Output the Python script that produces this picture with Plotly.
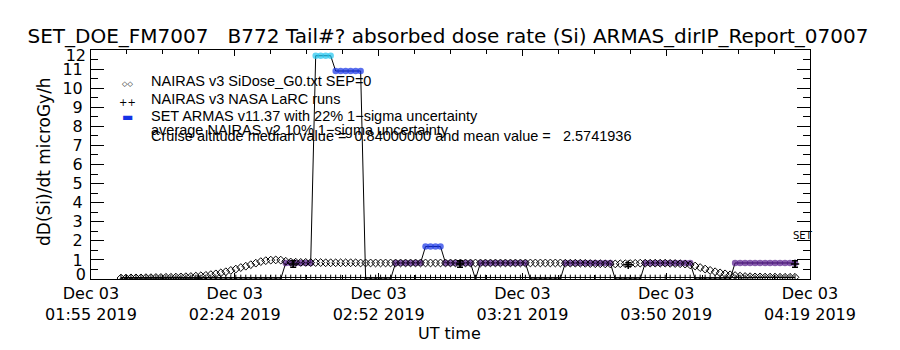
import plotly.graph_objects as go
import pandas as pd

# ---------------- data ----------------
X_START = "2019-12-03 01:55:15"
X_END = "2019-12-03 04:19:15"

# NAIRAS v3 SiDose_G0 (SEP=0), one value per minute starting at 02:01:15
nairas_start = "2019-12-03 02:01:15"
nairas_v3 = [
    0.05, 0.05, 0.06, 0.06, 0.06, 0.07, 0.07, 0.08, 0.08, 0.09,
    0.09, 0.10, 0.11, 0.12, 0.13, 0.15, 0.17, 0.19, 0.23, 0.27,
    0.32, 0.38, 0.45, 0.52, 0.60, 0.67, 0.75, 0.83, 0.91, 0.96,
    0.99, 1.00, 0.99, 0.93, 0.89, 0.88, 0.87, 0.87, 0.86, 0.86,
    0.86, 0.85, 0.85, 0.85, 0.85, 0.85, 0.85, 0.85, 0.84, 0.84,
    0.84, 0.84, 0.84, 0.84, 0.84, 0.84, 0.84, 0.84, 0.84, 0.84,
    0.84, 0.84, 0.84, 0.84, 0.84, 0.84, 0.84, 0.84, 0.84, 0.84,
    0.84, 0.84, 0.84, 0.84, 0.84, 0.84, 0.84, 0.84, 0.84, 0.84,
    0.84, 0.84, 0.84, 0.84, 0.84, 0.84, 0.84, 0.84, 0.84, 0.83,
    0.83, 0.83, 0.83, 0.82, 0.81, 0.80, 0.80, 0.79, 0.79, 0.79,
    0.80, 0.80, 0.81, 0.82, 0.83, 0.83, 0.83, 0.83, 0.83, 0.83,
    0.82, 0.81, 0.80, 0.78, 0.74, 0.68, 0.60, 0.52, 0.45, 0.38,
    0.32, 0.27, 0.22, 0.18, 0.15, 0.13, 0.12, 0.11, 0.11, 0.10,
    0.10, 0.10, 0.09, 0.09, 0.09, 0.09,
]

# SET ARMAS v11.37 dose rate, one value per minute starting at 02:01:15
armas_start = "2019-12-03 02:01:15"
armas_dose = (
    [0.0] * 33
    + [0.84, 0.84, 0.84, 0.84, 0.84, 0.84]
    + [11.7, 11.7, 11.7, 11.7]
    + [10.9, 10.9, 10.9, 10.9, 10.9, 10.9]
    + [0.0] * 6
    + [0.84, 0.84, 0.84, 0.84, 0.84, 0.84]
    + [1.70, 1.70, 1.70, 1.70]
    + [0.84, 0.84, 0.84, 0.84, 0.84, 0.84]
    + [0.0]
    + [0.84] * 10
    + [0.0] * 7
    + [0.84] * 10
    + [0.0] * 6
    + [0.84] * 10
    + [0.0] * 8
    + [0.84] * 13
)

# NAIRAS v3 NASA LaRC runs
larc_times = ["2019-12-03 02:35:45", "2019-12-03 03:09:09",
              "2019-12-03 03:42:51", "2019-12-03 04:16:15"]
larc_dose = [0.79, 0.79, 0.75, 0.79]
larc_err = [0.17, 0.17, 0.10, 0.17]

# low-level trace along the bottom (one value per minute from 02:01:15)
base_start = "2019-12-03 02:01:15"
base_dose = [0.08] * 136

x_tick_times = ["2019-12-03 01:55:15", "2019-12-03 02:24:03", "2019-12-03 02:52:51",
                "2019-12-03 03:21:39", "2019-12-03 03:50:27", "2019-12-03 04:19:15"]
x_tick_text = ["Dec 03<br>01:55 2019", "Dec 03<br>02:24 2019", "Dec 03<br>02:52 2019",
               "Dec 03<br>03:21 2019", "Dec 03<br>03:50 2019", "Dec 03<br>04:19 2019"]
y_tick_vals = list(range(0, 13))
y_tick_text = [str(v) for v in y_tick_vals]

title_text = "SET_DOE_FM7007\u00a0\u00a0\u00a0B772 Tail#? absorbed dose rate (Si) ARMAS_dirIP_Report_07007"
legend_lines = [
    "NAIRAS v3 SiDose_G0.txt SEP=0",
    "NAIRAS v3 NASA LaRC runs",
    "SET ARMAS v11.37 with 22% 1\u2212sigma uncertainty",
    "average NAIRAS v2 10% 1\u2212sigma uncertainty",
    "Cruise altitude median value =\u00a0\u00a00.84000000 and mean value =\u00a0\u00a0\u00a02.5741936",
]

# ---------------- styling helpers ----------------
PURPLE = "#551a8b"
BLUE = "#1432e6"
CYAN = "#1ec4f0"


def armas_color(v):
    if v == 0:
        return "black"
    if v < 1.2:
        return PURPLE
    if v < 11.5:
        return BLUE
    return CYAN


def minute_times(start, n):
    return pd.date_range(start=start, periods=n, freq="60s")


nairas_t = minute_times(nairas_start, len(nairas_v3))
armas_t = minute_times(armas_start, len(armas_dose))
base_t = minute_times(base_start, len(base_dose))

FONT = "DejaVu Sans"
LFONT = "Liberation Sans"

fig = go.Figure()

fig.add_trace(go.Scatter(
    x=base_t, y=base_dose, mode="lines+markers",
    line=dict(color="black", width=1),
    marker=dict(symbol="line-ns", size=4, line=dict(color="black", width=1)),
    showlegend=False, hoverinfo="skip"))

fig.add_trace(go.Scatter(
    x=armas_t, y=armas_dose, mode="lines+markers",
    line=dict(color="black", width=1),
    marker=dict(size=[3 if v == 0 else 6.5 for v in armas_dose],
                color=[armas_color(v) for v in armas_dose], line=dict(width=0)),
    name="SET ARMAS", showlegend=False))

fig.add_trace(go.Scatter(
    x=nairas_t, y=nairas_v3, mode="markers",
    marker=dict(symbol="diamond-open", size=6, color="black", line=dict(width=1)),
    name="NAIRAS v3", showlegend=False))

fig.add_trace(go.Scatter(
    x=larc_times, y=larc_dose, mode="markers",
    marker=dict(symbol="cross-thin", size=6, line=dict(color="black", width=1.5)),
    error_y=dict(type="data", array=larc_err, color="black", thickness=1.5, width=3),
    name="LaRC", showlegend=False))

# empty traces so the extra label axes are drawn
for ya in ("y2", "y3"):
    fig.add_trace(go.Scatter(x=[], y=[], yaxis=ya, showlegend=False, hoverinfo="skip"))

L, R, T, B = 91, 90, 50, 71
PW, PH = 900 - L - R, 350 - T - B


def px_x(x):
    return (x - L) / PW


def px_y(y):
    return (350 - B - y) / PH


annotations = []
# legend symbols
annotations.append(dict(x=px_x(127.5), y=px_y(84), xref="paper", yref="paper",
                        text="\u25c7\u25c7", showarrow=False, xanchor="center", yanchor="middle",
                        font=dict(family=FONT, size=7, color="black")))
annotations.append(dict(x=px_x(127.5), y=px_y(102), xref="paper", yref="paper",
                        text="++", showarrow=False, xanchor="center", yanchor="middle",
                        font=dict(family=FONT, size=10, color="black")))
annotations.append(dict(x=px_x(127.5), y=px_y(117.5), xref="paper", yref="paper",
                        text="\u25ac", showarrow=False, xanchor="center", yanchor="middle",
                        font=dict(family=FONT, size=12, color=BLUE)))
for txt, yc in zip(legend_lines, [81, 99, 116, 130, 136]):
    annotations.append(dict(x=px_x(149), y=px_y(yc), xref="paper", yref="paper",
                            text=txt, showarrow=False, xanchor="left", yanchor="middle",
                            font=dict(family=LFONT, size=14.5, color="black")))
# y axis title
annotations.append(dict(x=px_x(44), y=px_y(162), xref="paper", yref="paper",
                        text="dD(Si)/dt microGy/h", textangle=-90, showarrow=False,
                        xanchor="center", yanchor="middle",
                        font=dict(family=FONT, size=17, color="black")))
# x axis title
annotations.append(dict(x=px_x(449), y=px_y(333), xref="paper", yref="paper",
                        text="UT time", showarrow=False, xanchor="center", yanchor="middle",
                        font=dict(family=FONT, size=16, color="black")))
# SET label
annotations.append(dict(x="2019-12-03 04:15:27", y=2.26, xref="x", yref="y",
                        text="SET", showarrow=False, xanchor="left", yanchor="middle",
                        font=dict(family=FONT, size=10, color="black")))

label_axis = dict(range=[0, 12], overlaying="y", side="left", anchor="x",
                  tickmode="array", ticks="", showline=False, showgrid=False,
                  zeroline=False, ticklabelstandoff=4,
                  tickfont=dict(family=FONT, size=16, color="black"))

fig.update_layout(
    width=900, height=350,
    margin=dict(l=L, r=R, t=T, b=B, pad=0),
    paper_bgcolor="white", plot_bgcolor="white",
    font=dict(family=FONT, size=16, color="black"),
    title=dict(text=title_text, x=448 / 900, xref="container", xanchor="center",
               y=1 - 36 / 350, yref="container", yanchor="middle",
               font=dict(family=FONT, size=20, color="black")),
    showlegend=False,
    annotations=annotations,
    xaxis=dict(type="date", range=[X_START, X_END],
               tickmode="array", tickvals=x_tick_times, ticktext=x_tick_text,
               ticks="inside", ticklen=6, tickwidth=1, tickcolor="black",
               showline=True, linecolor="black", linewidth=1, mirror="ticks",
               showgrid=False, zeroline=False,
               tickfont=dict(family=FONT, size=16, color="black"),
               minor=dict(tickmode="linear", tick0=X_START, dtick=432000,
                          ticks="inside", ticklen=4, tickcolor="black", showgrid=False)),
    yaxis=dict(range=[0, 12], tickmode="array", tickvals=y_tick_vals,
               ticktext=["" if v in (0, 12) else t for v, t in zip(y_tick_vals, y_tick_text)],
               ticks="inside", ticklen=13, tickwidth=1, tickcolor="black",
               showline=True, linecolor="black", linewidth=1, mirror="ticks",
               showgrid=False, zeroline=False, ticklabelstandoff=4,
               tickfont=dict(family=FONT, size=16, color="black"),
               minor=dict(tickmode="linear", tick0=0, dtick=0.5,
                          ticks="inside", ticklen=7, tickcolor="black", showgrid=False)),
    yaxis2=dict(label_axis, tickvals=[y_tick_vals[-1]], ticktext=[y_tick_text[-1]],
                ticklabelshift=5),
    yaxis3=dict(label_axis, tickvals=[y_tick_vals[0]], ticktext=[y_tick_text[0]],
                ticklabelshift=-5),
)

fig.write_html("out.html")
